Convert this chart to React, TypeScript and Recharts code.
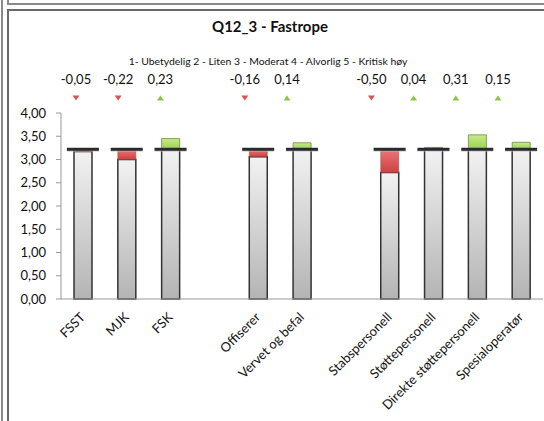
import React from 'react';
import { ComposedChart, Bar, Line, XAxis, YAxis, LabelList } from 'recharts';

const categories = ['FSST', 'MJK', 'FSK', ' ', 'Offiserer', 'Vervet og befal', '  ', 'Stabspersonell', 'Støttepersonell', 'Direkte støttepersonell', 'Spesialoperatør'];
const means: (number | null)[] = [3.17, 3.0, 3.45, null, 3.06, 3.36, null, 2.72, 3.26, 3.53, 3.37];
const deltaLabels: (string | null)[] = ['-0,05', '-0,22', '0,23', null, '-0,16', '0,14', null, '-0,50', '0,04', '0,31', '0,15'];
const baseline = 3.22;
const yTicks = [0, 0.5, 1, 1.5, 2, 2.5, 3, 3.5, 4];
const boundaryTicks = [0, 1, 2, 3, 4, 5, 6, 7, 8, 9, 10, 11];
// label row sits in its own column grid (slightly narrower than the plot)
const labelColumnDomain: [number, number] = [-0.355, 11.066];

const TITLE = 'Q12_3 - Fastrope';
const SUBTITLE = '1- Ubetydelig 2 - Liten 3 - Moderat 4 - Alvorlig 5 - Kritisk høy';

const data = categories.map((name, i) => {
  const m = means[i];
  if (m === null) return { name, idx: i, gray: null, red: null, green: null, base: null, lblBase: null, label: null };
  return {
    name,
    idx: i,
    gray: Math.min(m, baseline),
    red: m < baseline ? baseline - m : 0,
    green: m > baseline ? m - baseline : 0,
    base: baseline,
    lblBase: baseline,
    label: deltaLabels[i],
  };
});

const FONT = 'Lato, "Open Sans", sans-serif';
const LABEL_Y = 84;
const TRI_Y = 98;

const MarkerDot = (props: any) => {
  const { cx, cy, index } = props;
  if (cx == null || cy == null || props.value == null) return <g key={`m${index}`} />;
  return (
    <g key={`m${index}`}>
      <rect x={cx - 16} y={cy - 0.5} width={32} height={3} fill="#bbb" opacity={0.6} />
      <rect x={cx - 16} y={cy - 1.5} width={32} height={3} fill="#2a2a2a" />
    </g>
  );
};

const DeltaLabel = (props: any) => {
  const { x, value, index } = props;
  if (value == null || x == null) return null;
  const neg = String(value).startsWith('-');
  const tri = neg
    ? `${x - 3.5},${TRI_Y - 2.5} ${x + 3.5},${TRI_Y - 2.5} ${x},${TRI_Y + 2.5}`
    : `${x - 3.5},${TRI_Y + 2.5} ${x + 3.5},${TRI_Y + 2.5} ${x},${TRI_Y - 2.5}`;
  return (
    <g key={`d${index}`}>
      <text x={x} y={LABEL_Y} textAnchor="middle" fontSize={13} fontFamily={FONT} fill="#111">{value}</text>
      <polygon points={tri} fill={neg ? '#d9534f' : '#8cc63f'} />
    </g>
  );
};

const XTick = (props: any) => {
  const { x, y, payload } = props;
  const v = String(payload.value);
  if (!v.trim()) return <g />;
  return (
    <g transform={`translate(${x + 3},${y + 19})`}>
      <text textAnchor="end" transform="rotate(-45)" fontSize={13} fontFamily={FONT} fill="#111">{v}</text>
    </g>
  );
};

const fmt = (v: number) => v.toFixed(2).replace('.', ',');

export default function App() {
  return (
    <div style={{ position: 'absolute', left: 0, top: 0, width: 544, height: 421, background: '#fff', overflow: 'hidden' }}>
      <div style={{ position: 'absolute', left: 1, top: 0, width: 2, height: 421, background: '#8a8a8a' }} />
      <div style={{ position: 'absolute', left: 7, top: 0, width: 2, height: 5, background: '#8a8a8a' }} />
      <div style={{ position: 'absolute', left: 7, top: 3, width: 537, height: 2, background: '#8a8a8a' }} />
      <div style={{ position: 'absolute', left: 7, top: 9, width: 2, height: 412, background: '#6a6a6a' }} />
      <div style={{ position: 'absolute', left: 7, top: 9, width: 537, height: 2, background: '#6a6a6a' }} />
      <div style={{ position: 'absolute', left: 0, top: 16, width: 540, textAlign: 'center', fontFamily: FONT, fontWeight: 700, fontSize: 15, lineHeight: '20px', color: '#111' }}>{TITLE}</div>
      <div style={{ position: 'absolute', left: 0, top: 55, width: 536, textAlign: 'center', fontFamily: FONT, fontSize: 10.4, color: '#111' }}>{SUBTITLE}</div>
      <div style={{ position: 'absolute', left: 0, top: 0 }}>
        <ComposedChart width={544} height={421} data={data} margin={{ top: 113, right: 1, bottom: 120, left: 0 }}>
          <defs>
            <linearGradient id="grayGrad" x1="0" y1="0" x2="0" y2="1">
              <stop offset="0%" stopColor="#f2f2f2" />
              <stop offset="100%" stopColor="#b4b4b4" />
            </linearGradient>
            <linearGradient id="redGrad" x1="0" y1="0" x2="0" y2="1">
              <stop offset="0%" stopColor="#e87878" />
              <stop offset="100%" stopColor="#d04040" />
            </linearGradient>
            <linearGradient id="greenGrad" x1="0" y1="0" x2="0" y2="1">
              <stop offset="0%" stopColor="#c8ec8a" />
              <stop offset="100%" stopColor="#9ad050" />
            </linearGradient>
          </defs>
          <XAxis dataKey="name" height={1} tickLine={false} tickSize={0} tickMargin={0} axisLine={{ stroke: '#999' }} tick={<XTick />} interval={0} />
          <XAxis xAxisId="b" type="number" domain={[0, 11]} ticks={boundaryTicks} height={1} tick={false} axisLine={false} tickLine={{ stroke: '#999' }} tickSize={5} allowDataOverflow />
          <XAxis xAxisId="lbl" dataKey="idx" type="number" domain={labelColumnDomain} hide allowDataOverflow />
          <YAxis width={61} domain={[0, 4]} ticks={yTicks} tickFormatter={fmt} tickSize={5} tickMargin={10} axisLine={{ stroke: '#999' }} tickLine={{ stroke: '#999' }} tick={{ fontSize: 13, fontFamily: FONT, fill: '#111' }} />
          <Bar dataKey="gray" stackId="a" barSize={18} fill="url(#grayGrad)" stroke="#333" strokeWidth={1.5} isAnimationActive={false} />
          <Bar dataKey="red" stackId="a" barSize={18} fill="url(#redGrad)" stroke="#a04040" strokeWidth={0.5} isAnimationActive={false} />
          <Bar dataKey="green" stackId="a" barSize={18} fill="url(#greenGrad)" stroke="#6c8c3c" strokeWidth={0.8} isAnimationActive={false} />
          <Line dataKey="base" stroke="none" dot={<MarkerDot />} activeDot={false} isAnimationActive={false} legendType="none" />
          <Line xAxisId="lbl" dataKey="lblBase" stroke="none" dot={false} activeDot={false} isAnimationActive={false} legendType="none">
            <LabelList dataKey="label" content={<DeltaLabel />} />
          </Line>
        </ComposedChart>
      </div>
    </div>
  );
}
